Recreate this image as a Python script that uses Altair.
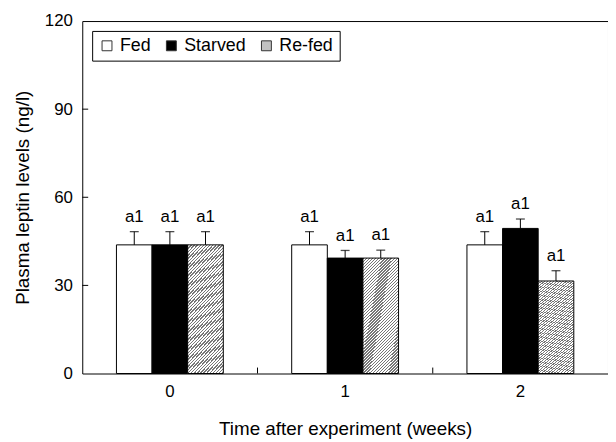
import altair as alt
import pandas as pd

weeks = ["0", "1", "2"]
groups = ["Fed", "Starved", "Re-fed"]
fed_mean = [43.8, 43.8, 43.8]
fed_err = [4.5, 4.5, 4.5]
starved_mean = [43.8, 39.3, 49.4]
starved_err = [4.5, 2.6, 3.2]
refed_mean = [43.8, 39.3, 31.5]
refed_err = [4.5, 2.7, 3.5]
fed_lab = ["a1", "a1", "a1"]
starved_lab = ["a1", "a1", "a1"]
refed_lab = ["a1", "a1", "a1"]
y_ticks = [0, 30, 60, 90, 120]
inner_y_ticks = [30, 60, 90]
boundary_weeks = ["1", "2"]

rows = []
for g, means, errs, labs in [
    ("Fed", fed_mean, fed_err, fed_lab),
    ("Starved", starved_mean, starved_err, starved_lab),
    ("Re-fed", refed_mean, refed_err, refed_lab),
]:
    for w, m, e, l in zip(weeks, means, errs, labs):
        rows.append(dict(week=w, group=g, mean=m, top=m + e, label=l))
df = pd.DataFrame(rows)

FONT = "Liberation Sans"

# hatch pattern as a striped gradient
n = 50
stops = []
for i in range(n):
    a = i / n
    b = (i + 0.45) / n
    c = (i + 1) / n
    stops += [
        alt.GradientStop(color="#777777", offset=a),
        alt.GradientStop(color="#777777", offset=b),
        alt.GradientStop(color="#ffffff", offset=b),
        alt.GradientStop(color="#ffffff", offset=c),
    ]
hatch = alt.LinearGradient(gradient="linear", stops=stops, x1=0, y1=0, x2=0.36, y2=1.2)

x_axis = alt.Axis(title="Time after experiment (weeks)", ticks=False,
                  domain=False, labelAngle=0, labelPadding=10, titlePadding=21)
y_axis = alt.Axis(title="Plasma leptin levels (ng/l)", values=y_ticks,
                  ticks=False, grid=False, domain=False,
                  labelPadding=10, titlePadding=12)
x_scale = alt.Scale(paddingInner=0, paddingOuter=0)
y_scale = alt.Scale(domain=[0, 120], nice=False)

x_enc = alt.X("week:N", sort=weeks, scale=x_scale, axis=x_axis)
xo_enc = alt.XOffset("group:N", sort=groups,
                     scale=alt.Scale(paddingInner=0, paddingOuter=0.96))

base = alt.Chart(df)

bars = base.mark_bar(stroke="black", strokeWidth=1).encode(
    x=x_enc,
    xOffset=xo_enc,
    y=alt.Y("mean:Q", scale=y_scale, axis=y_axis),
    fill=alt.condition(
        alt.datum.group == "Re-fed",
        alt.value(hatch),
        alt.Fill("group:N", sort=groups,
                 scale=alt.Scale(domain=groups, range=["white", "black", "#c2c2c2"]),
                 legend=alt.Legend(title=None, orient="none", legendX=10, legendY=10,
                                   direction="horizontal", strokeColor="black",
                                   fillColor="white", padding=6,
                                   labelFontSize=18, labelFont=FONT,
                                   labelColor="black",
                                   symbolType="square", symbolSize=100,
                                   symbolStrokeColor="#333", symbolStrokeWidth=1,
                                   columnPadding=11, labelOffset=4)),
    ),
)

err = base.mark_rule(color="black", strokeWidth=1).encode(
    x=x_enc,
    xOffset=xo_enc,
    y=alt.Y("mean:Q", scale=y_scale, axis=y_axis),
    y2="top:Q",
)

cap = base.mark_tick(color="black", size=9, thickness=1.3, orient="horizontal").encode(
    x=x_enc,
    xOffset=xo_enc,
    y=alt.Y("top:Q", scale=y_scale, axis=y_axis),
)

txt = base.mark_text(dy=-10, baseline="alphabetic", fontSize=17, font=FONT,
                     color="black").encode(
    x=x_enc,
    xOffset=xo_enc,
    y=alt.Y("top:Q", scale=y_scale, axis=y_axis),
    text="label:N",
)

yticks = alt.Chart(pd.DataFrame({"v": inner_y_ticks})).mark_rule(
    color="black", strokeWidth=1).encode(
    y=alt.Y("v:Q", scale=y_scale, axis=y_axis),
    x=alt.value(0),
    x2=alt.value(6),
)

xticks = alt.Chart(pd.DataFrame({"week": boundary_weeks})).mark_rule(
    color="black", strokeWidth=1).encode(
    x=alt.X("week:N", sort=weeks, scale=x_scale, axis=x_axis, bandPosition=0),
    y=alt.value(356),
    y2=alt.value(350),
)

chart = alt.layer(bars, err, cap, txt, yticks, xticks).properties(
    width=531, height=356,
    autosize=alt.AutoSizeParams(type="none"),
    padding={"left": 75, "top": 11, "right": 0, "bottom": 67},
    background="white",
).configure_axis(
    labelFont=FONT, titleFont=FONT, labelFontSize=17, titleFontSize=19,
    labelColor="black", titleColor="black", titleFontWeight="normal",
).configure_view(
    stroke="black", strokeWidth=1,
)

chart.save("out.html", embed_options={"renderer": "svg", "actions": False})
